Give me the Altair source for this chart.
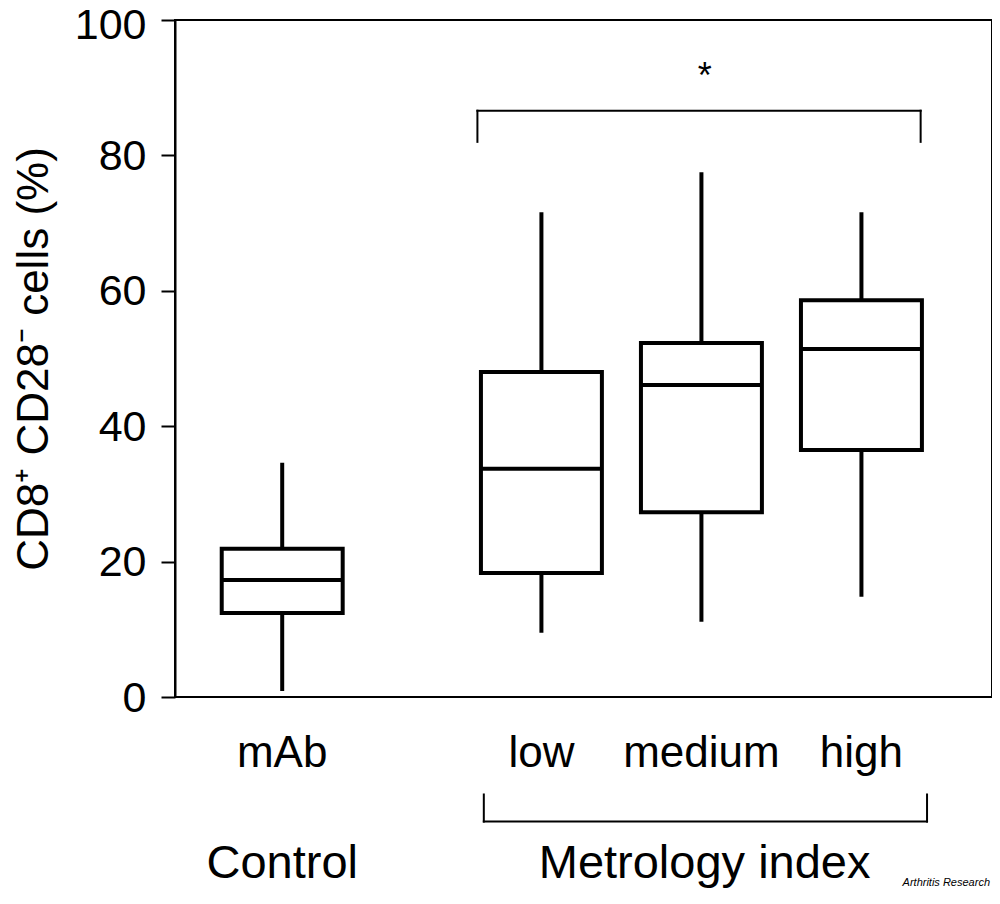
import altair as alt
import pandas as pd

# ---- data ----
groups = ["mAb", "low", "medium", "high"]
x_pos = [0.67, 2.29, 3.29, 4.29]          # category positions on the (hidden) x scale
whisker_low = [0.9, 9.5, 11.1, 14.8]
q1 = [12.4, 18.3, 27.3, 36.5]
median = [17.3, 33.7, 46.1, 51.4]
q3 = [21.9, 48.0, 52.3, 58.6]
whisker_high = [34.6, 71.6, 77.5, 71.6]

y_ticks = [0, 20, 40, 60, 80, 100]
group_titles = ["Control", "Metrology index"]
group_title_pos = [0.67, 3.31]

# significance bracket (x in category units, y in %)
sig_x = [1.89, 4.66]
sig_y = [86.6, 82.0]
# bracket under "low / medium / high" (below the axis, y in %)
grp_x = [1.93, 4.70]
grp_y = [-18.4, -14.4]

FONT = "Liberation Sans"
HALF = 0.378

df = pd.DataFrame({
    "group": groups, "pos": x_pos, "wlo": whisker_low, "q1": q1,
    "med": median, "q3": q3, "whi": whisker_high,
})

xscale = alt.Scale(domain=[0, 5.106], nice=False, zero=False)
yscale = alt.Scale(domain=[0, 100], nice=False, zero=False)

X = alt.X("pos:Q", scale=xscale, axis=None)

whiskers = alt.Chart(df).mark_rule(color="black", strokeWidth=4, strokeCap="butt").encode(
    x=X,
    y=alt.Y("wlo:Q", scale=yscale, axis=alt.Axis(
        values=y_ticks, grid=False, domainColor="black", domainWidth=2,
        tickColor="black", tickWidth=2, tickSize=14, labelFont=FONT,
        labelFontSize=43, labelColor="black", labelPadding=15,
        labelOverlap=False,
        labelOffset={"condition": {"test": "datum.value == 100", "value": 5}, "value": 1},
        title="CD8⁺ CD28⁻ cells (%)", titleFont=FONT, titleFontSize=44,
        titleFontWeight="normal", titleColor="black", titleAngle=270,
        titleX=-128, titleY=338.5, titleAlign="center", titleBaseline="alphabetic",
    )),
    y2="whi:Q",
)

boxes = alt.Chart(df).transform_calculate(
    xl=f"datum.pos - {HALF}", xr=f"datum.pos + {HALF}"
).mark_rect(fill="white", stroke="black", strokeWidth=4).encode(
    x=alt.X("xl:Q", scale=xscale, axis=None), x2="xr:Q",
    y=alt.Y("q1:Q", scale=yscale), y2="q3:Q",
)

medians = alt.Chart(df).transform_calculate(
    xl=f"datum.pos - {HALF}", xr=f"datum.pos + {HALF}"
).mark_rule(color="black", strokeWidth=4, strokeCap="butt").encode(
    x=alt.X("xl:Q", scale=xscale, axis=None), x2="xr:Q",
    y=alt.Y("med:Q", scale=yscale),
)

cat_labels = alt.Chart(df).mark_text(
    font=FONT, fontSize=44, color="black", align="center", baseline="alphabetic"
).encode(x=X, y=alt.value(747), text="group:N")

gt_df = pd.DataFrame({"t": group_titles, "pos": group_title_pos})
grp_labels = alt.Chart(gt_df).mark_text(
    font=FONT, fontSize=47, color="black", align="center", baseline="alphabetic"
).encode(x=X, y=alt.value(858), text="t:N")

def bracket(xs, ys):
    d = pd.DataFrame({
        "x": [xs[0], xs[0], xs[1]],
        "x2": [xs[0], xs[1], xs[1]],
        "y": [ys[1], ys[0], ys[1]],
        "y2": [ys[0], ys[0], ys[0]],
    })
    return alt.Chart(d).mark_rule(color="black", strokeWidth=2, strokeCap="square").encode(
        x=alt.X("x:Q", scale=xscale, axis=None), x2="x2:Q",
        y=alt.Y("y:Q", scale=yscale), y2="y2:Q",
    )

sig_bracket = bracket(sig_x, sig_y)
grp_bracket = bracket(grp_x, grp_y)

star = alt.Chart(pd.DataFrame({"pos": [3.31], "t": ["*"]})).mark_text(
    font=FONT, fontSize=36, color="black", align="center", baseline="alphabetic"
).encode(x=X, y=alt.value(68), text="t:N")

credit = alt.Chart(pd.DataFrame({"t": ["Arthritis Research"]})).mark_text(
    font=FONT, fontSize=11, fontStyle="italic", color="black", align="right",
    baseline="alphabetic"
).encode(x=alt.value(815), y=alt.value(866), text="t:N")

chart = alt.layer(
    whiskers, boxes, medians, sig_bracket, grp_bracket,
    cat_labels, grp_labels, star, credit,
).properties(
    width=817, height=677,
    autosize=alt.AutoSizeParams(type="none"),
    padding={"left": 167, "top": 12, "right": 0, "bottom": 192},
).configure_view(stroke="black", strokeWidth=2)

chart.save("out.html", embed_options={"renderer": "svg", "actions": False})
